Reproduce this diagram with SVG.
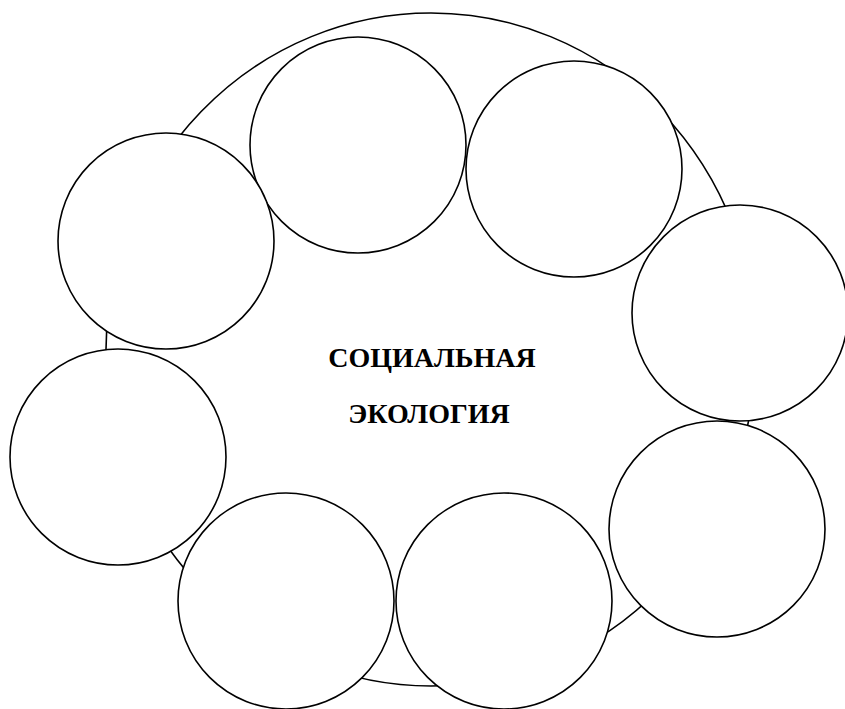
<svg xmlns="http://www.w3.org/2000/svg" width="845" height="709" viewBox="0 0 845 709">
<style>
.c{fill:#fff;stroke:#000;stroke-width:1.6}
.t{font-family:"Liberation Serif","Times New Roman",serif;font-weight:bold;font-size:28px;fill:#000;text-anchor:middle}
</style>
<rect width="845" height="709" fill="#fff"/>
<g id="center">
<ellipse cx="431" cy="349.5" rx="325" ry="336.5" class="c"/>
<text class="t" x="432" y="367">СОЦИАЛЬНАЯ</text>
<text class="t" x="429" y="423">ЭКОЛОГИЯ</text>
</g>
<g id="connectors"></g>
<g id="n1"><circle cx="358" cy="145" r="108" class="c"/></g>
<g id="n2"><circle cx="574" cy="169" r="108" class="c"/></g>
<g id="n3"><circle cx="166" cy="241" r="108" class="c"/></g>
<g id="n4"><circle cx="740" cy="313" r="108" class="c"/></g>
<g id="n5"><circle cx="118" cy="457" r="108" class="c"/></g>
<g id="n6"><circle cx="717" cy="529" r="108" class="c"/></g>
<g id="n7"><circle cx="286" cy="601" r="108" class="c"/></g>
<g id="n8"><circle cx="504" cy="601" r="108" class="c"/></g>
</svg>
